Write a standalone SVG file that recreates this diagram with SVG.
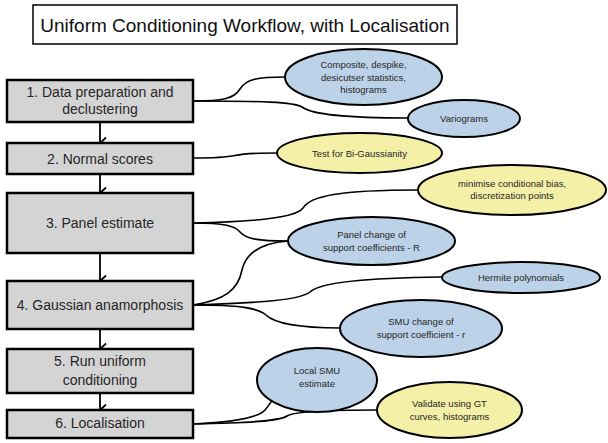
<svg xmlns="http://www.w3.org/2000/svg" width="608" height="443" viewBox="0 0 608 443">
  <style>
    .title-box { fill: #ffffff; stroke: #000000; stroke-width: 1.5; }
    .title { font-family: "Liberation Sans", Arial, sans-serif; font-size: 19px; fill: #111111; text-anchor: middle; }
    .step { fill: #d4d4d4; stroke: #000000; stroke-width: 2.5; }
    .step-text { font-family: "Liberation Sans", Arial, sans-serif; font-size: 14px; fill: #262626; text-anchor: middle; }
    .note-blue { fill: #bcd2e8; stroke: #000000; stroke-width: 2; }
    .note-yellow { fill: #f4f0a8; stroke: #000000; stroke-width: 2; }
    .note-text { font-family: "Liberation Sans", Arial, sans-serif; font-size: 9.5px; fill: #262626; text-anchor: middle; }
    .flow { stroke: #000000; stroke-width: 1.8; fill: none; marker-end: url(#chev); }
    .link { stroke: #000000; stroke-width: 1.6; fill: none; }
  </style>
  <defs>
    <marker id="chev" viewBox="0 0 12 8" refX="6" refY="7" markerWidth="12" markerHeight="8" markerUnits="userSpaceOnUse" orient="auto-start-reverse">
      <path d="M0.5,1 L6,7 L11.5,1" fill="none" stroke="#000000" stroke-width="1.8"/>
    </marker>
  </defs>

  <rect width="608" height="443" fill="#ffffff"/>

  <!-- heading -->
  <g id="title">
    <rect class="title-box" x="33" y="5" width="424" height="39"/>
    <text class="title" x="245" y="32">Uniform Conditioning Workflow, with Localisation</text>
  </g>

  <!-- connectors: step flow and side-note braces -->
  <g id="connectors">
    <path class="flow" d="M100,122 V143"/>
    <path class="flow" d="M100,174 V193"/>
    <path class="flow" d="M100,253 V281"/>
    <path class="flow" d="M100,329 V349"/>
    <path class="flow" d="M100,393 V410"/>

    <path class="link" d="M193,101 C222,101 234,99 240,89 C246,79 258,77 285,77"/>
    <path class="link" d="M193,101 C262,101 294,102 302,107 C311,114 340,118 408,118"/>
    <path class="link" d="M193,158 C220,158 228,157 235,155.5 C242,154 250,153 277,153"/>
    <path class="link" d="M193,223 C255,222 296,218 303,208 C310,196 340,190 417,190"/>
    <path class="link" d="M193,223 C225,223 235,226 240,232 C246,239 258,241 288,241"/>
    <path class="link" d="M193,305 C225,300 238,290 242,270 C246,252 262,243 288,241"/>
    <path class="link" d="M193,305 C260,303 300,300 310,292 C318,284 350,278 442,277"/>
    <path class="link" d="M193,305 C240,305 258,308 266,315 C274,323 300,328 340,328"/>
    <path class="link" d="M193,424 C235,422 258,418 265,410 C270,404 272,400 275,397"/>
    <path class="link" d="M193,424 C250,423 280,421 287,416 C293,412 320,410 377,410"/>
  </g>

  <!-- workflow steps -->
  <g id="step1">
    <rect class="step" x="7" y="80" width="186" height="42"/>
    <text class="step-text" x="100" y="97">1. Data preparation and</text>
    <text class="step-text" x="100" y="114">declustering</text>
  </g>
  <g id="step2">
    <rect class="step" x="7" y="143" width="186" height="31"/>
    <text class="step-text" x="100" y="164">2. Normal scores</text>
  </g>
  <g id="step3">
    <rect class="step" x="7" y="193" width="186" height="60"/>
    <text class="step-text" x="100" y="228">3. Panel estimate</text>
  </g>
  <g id="step4">
    <rect class="step" x="7" y="281" width="186" height="48"/>
    <text class="step-text" x="100" y="310">4. Gaussian anamorphosis</text>
  </g>
  <g id="step5">
    <rect class="step" x="7" y="349" width="186" height="44"/>
    <text class="step-text" x="100" y="366">5. Run uniform</text>
    <text class="step-text" x="100" y="385">conditioning</text>
  </g>
  <g id="step6">
    <rect class="step" x="7" y="410" width="186" height="28"/>
    <text class="step-text" x="100" y="428">6. Localisation</text>
  </g>

  <!-- side notes -->
  <g id="note-composite">
    <ellipse class="note-blue" cx="363.5" cy="77" rx="78.5" ry="28"/>
    <text class="note-text" x="363.5" y="68">Composite, despike,</text>
    <text class="note-text" x="363.5" y="81">desicutser  statistics,</text>
    <text class="note-text" x="363.5" y="93">histograms</text>
  </g>
  <g id="note-variograms">
    <ellipse class="note-blue" cx="464" cy="118.5" rx="56" ry="18.5"/>
    <text class="note-text" x="464" y="122">Variograms</text>
  </g>
  <g id="note-bigauss">
    <ellipse class="note-yellow" cx="359.5" cy="153" rx="82.5" ry="20"/>
    <text class="note-text" x="359.5" y="157">Test for Bi-Gaussianity</text>
  </g>
  <g id="note-bias">
    <ellipse class="note-yellow" cx="512" cy="190" rx="94" ry="25"/>
    <text class="note-text" x="512" y="187">minimise conditional bias,</text>
    <text class="note-text" x="512" y="199">discretization points</text>
  </g>
  <g id="note-panel-r">
    <ellipse class="note-blue" cx="371.5" cy="241" rx="83.5" ry="24"/>
    <text class="note-text" x="371.5" y="238">Panel change of</text>
    <text class="note-text" x="371.5" y="251">support coefficients - R</text>
  </g>
  <g id="note-hermite">
    <ellipse class="note-blue" cx="521" cy="277.5" rx="79" ry="15.5"/>
    <text class="note-text" x="521" y="281">Hermite polynomials</text>
  </g>
  <g id="note-smu-r">
    <ellipse class="note-blue" cx="421" cy="328.5" rx="81" ry="28.5"/>
    <text class="note-text" x="421" y="325">SMU change of</text>
    <text class="note-text" x="421" y="338">support coefficient - r</text>
  </g>
  <g id="note-local-smu">
    <ellipse class="note-blue" cx="317" cy="380" rx="60" ry="32"/>
    <text class="note-text" x="317" y="374">Local SMU</text>
    <text class="note-text" x="317" y="387">estimate</text>
  </g>
  <g id="note-validate">
    <ellipse class="note-yellow" cx="449.5" cy="410" rx="72.5" ry="28"/>
    <text class="note-text" x="449.5" y="407">Validate using GT</text>
    <text class="note-text" x="449.5" y="420">curves, histograms</text>
  </g>
</svg>
